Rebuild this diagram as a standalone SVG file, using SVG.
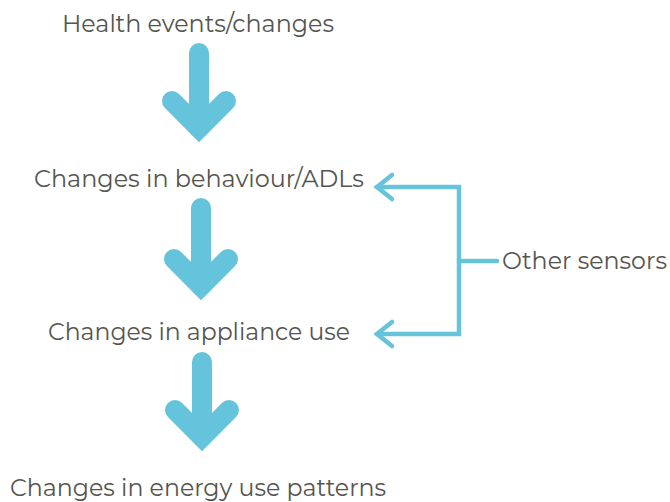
<svg xmlns="http://www.w3.org/2000/svg" width="670" height="502" viewBox="0 0 670 502">
  <style>
    .lbl { font-family: "Montserrat", "Lato", "Open Sans", sans-serif; font-size: 24px; fill: #55554f; }
    .big { fill: none; stroke: #66c3dc; stroke-width: 20; stroke-linecap: round; stroke-linejoin: miter; }
    .thin { fill: none; stroke: #66c3dc; stroke-width: 4.5; stroke-linecap: round; stroke-linejoin: miter; }
  </style>
  <rect width="670" height="502" fill="#ffffff"/>

  <g id="node-health">
    <text class="lbl" x="198" y="32" text-anchor="middle" textLength="272" lengthAdjust="spacingAndGlyphs">Health events/changes</text>
  </g>
  <g id="node-behaviour">
    <text class="lbl" x="199" y="187" text-anchor="middle" textLength="330" lengthAdjust="spacingAndGlyphs">Changes in behaviour/ADLs</text>
  </g>
  <g id="node-appliance">
    <text class="lbl" x="199" y="340" text-anchor="middle" textLength="302" lengthAdjust="spacingAndGlyphs">Changes in appliance use</text>
  </g>
  <g id="node-energy">
    <text class="lbl" x="198" y="496" text-anchor="middle" textLength="376" lengthAdjust="spacingAndGlyphs">Changes in energy use patterns</text>
  </g>
  <g id="node-sensors">
    <text class="lbl" x="502" y="269" textLength="165" lengthAdjust="spacingAndGlyphs">Other sensors</text>
  </g>

  <g id="connectors">
    <!-- thick downward arrows -->
    <g>
      <path class="big" d="M199 53 V128"/>
      <path class="big" d="M172 101 L199 128 L226 101"/>
    </g>
    <g>
      <path class="big" d="M201 208 V286"/>
      <path class="big" d="M174 259 L201 286 L228 259"/>
    </g>
    <g>
      <path class="big" d="M202 362 V437"/>
      <path class="big" d="M175 410 L202 437 L229 410"/>
    </g>
    <!-- bracket from other sensors -->
    <path class="thin" d="M497 261 H459"/>
    <path class="thin" d="M377 187 H459 V334 H377"/>
    <path class="thin" d="M392 175 L377 187 L392 199"/>
    <path class="thin" d="M392 322 L377 334 L392 346"/>
  </g>
</svg>
